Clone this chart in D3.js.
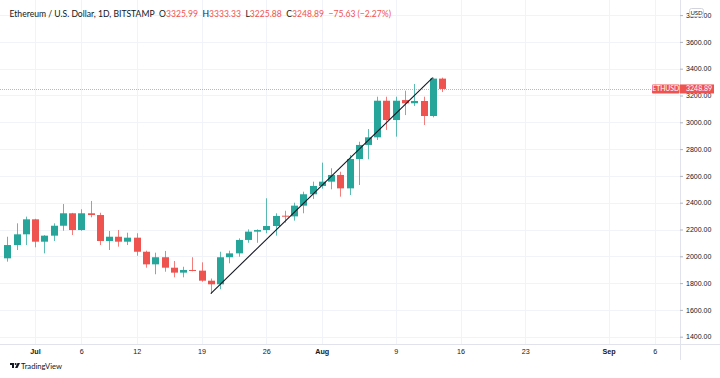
<!DOCTYPE html>
<html>
<head>
<meta charset="utf-8">
<script src="https://cdn.jsdelivr.net/npm/d3@7"></script>
<style>
  body { margin: 0; background: #fff; }
  svg { display: block; font-family: "Lato", "Noto Sans", sans-serif; }
  .tick text { fill: #131722; }
</style>
</head>
<body>
<svg id="chart" width="720" height="378"></svg>
<script>
// daily ETH/USD candles
const dates = ["2021-06-28","2021-06-29","2021-06-30","2021-07-01","2021-07-02","2021-07-03","2021-07-04",
  "2021-07-05","2021-07-06","2021-07-07","2021-07-08","2021-07-09","2021-07-10","2021-07-11","2021-07-12",
  "2021-07-13","2021-07-14","2021-07-15","2021-07-16","2021-07-17","2021-07-18","2021-07-19","2021-07-20",
  "2021-07-21","2021-07-22","2021-07-23","2021-07-24","2021-07-25","2021-07-26","2021-07-27","2021-07-28",
  "2021-07-29","2021-07-30","2021-07-31","2021-08-01","2021-08-02","2021-08-03","2021-08-04","2021-08-05",
  "2021-08-06","2021-08-07","2021-08-08","2021-08-09","2021-08-10","2021-08-11","2021-08-12","2021-08-13",
  "2021-08-14"];
const open  = [1985,2084,2164,2276,2109,2154,2228,2321,2196,2321,2308,2114,2146,2109,2139,2034,1940,1993,
  1915,1878,1898,1893,1818,1791,1993,2022,2122,2184,2196,2226,2303,2298,2378,2463,2525,2557,2607,2507,2726,
  2831,2888,3161,3017,3166,3142,3159,3047,3325.99];
const high  = [2146,2246,2296,2280,2158,2246,2390,2324,2351,2413,2325,2189,2196,2176,2172,2042,2027,2040,
  1965,1922,1993,1955,1834,2034,2042,2134,2201,2201,2433,2321,2340,2400,2482,2557,2699,2657,2631,2756,2855,
  2950,3191,3191,3191,3236,3286,3191,3333,3333.33];
const low   = [1960,2047,2084,2067,2022,2114,2191,2159,2190,2291,2084,2047,2072,2084,2004,1915,1866,1885,
  1843,1843,1888,1810,1719,1754,1948,1997,2101,2101,2172,2154,2251,2266,2321,2428,2505,2500,2445,2457,2532,
  2724,2868,2943,2893,3054,3122,2980,3037,3225.88];
const close = [2084,2164,2276,2109,2154,2228,2321,2196,2321,2308,2114,2146,2109,2139,2034,1940,1993,1915,
  1878,1898,1893,1818,1791,1993,2022,2122,2184,2196,2226,2301,2298,2378,2463,2525,2557,2607,2507,2726,2831,
  2888,3161,3017,3161,3142,3159,3047,3326,3248.89];

const trendDates = ["2021-07-20", "2021-08-13"];
const trendPrices = [1722, 3333];

const priceTicks = d3.range(1400, 3801, 200);
const timeTicks = ["2021-07-01","2021-07-06","2021-07-12","2021-07-19","2021-07-26","2021-08-01",
  "2021-08-09","2021-08-16","2021-08-23","2021-09-01","2021-09-06"];
const timeLabels = ["Jul","6","12","19","26","Aug","9","16","23","Sep","6"];

const title = "Ethereum / U.S. Dollar, 1D, BITSTAMP";
const lastPrice = 3248.89;

const up = "#26a69a", down = "#ef5350";
const width = 720, height = 378;
const plotRight = 680, plotBottom = 344;

const parse = d3.utcParse("%Y-%m-%d");
const data = dates.map((d, i) => ({date: parse(d), o: open[i], h: high[i], l: low[i], c: close[i]}));

const svg = d3.select("#chart");

const x = d3.scaleUtc()
    .domain([parse("2021-07-01"), parse("2021-09-06")])
    .range([35, 654.75]);
const y = d3.scaleLinear()
    .domain([1400, 3600])
    .range([336.7, 41.9]);

// grid
const grid = svg.append("g").attr("class", "grid");
grid.selectAll(".hg").data(priceTicks).join("line")
    .attr("x1", 0).attr("x2", plotRight)
    .attr("y1", d => Math.round(y(d)) + 0.5).attr("y2", d => Math.round(y(d)) + 0.5)
    .attr("stroke", "#f0f3fa");
grid.selectAll(".vg").data(timeTicks).join("line")
    .attr("x1", d => Math.round(x(parse(d))) + 0.5).attr("x2", d => Math.round(x(parse(d))) + 0.5)
    .attr("y1", 0).attr("y2", plotBottom)
    .attr("stroke", "#f0f3fa");

// axis borders
svg.append("line").attr("x1", 0).attr("x2", width).attr("y1", plotBottom + 0.5).attr("y2", plotBottom + 0.5)
    .attr("stroke", "#e0e3eb");
svg.append("line").attr("x1", plotRight + 0.5).attr("x2", plotRight + 0.5).attr("y1", 0).attr("y2", 360)
    .attr("stroke", "#e0e3eb");

// axes
const yAxis = d3.axisRight(y)
    .tickValues(priceTicks)
    .tickFormat(d3.format(".2f"))
    .tickSize(3)
    .tickPadding(3);
const gY = svg.append("g")
    .attr("transform", `translate(${plotRight},0)`)
    .call(yAxis);
gY.select(".domain").remove();
gY.selectAll(".tick line").attr("stroke", "#b2b5be");
gY.selectAll(".tick text").attr("font-size", 7);

const xAxis = d3.axisBottom(x)
    .tickValues(timeTicks.map(parse))
    .tickFormat((d, i) => timeLabels[i])
    .tickSize(0)
    .tickPadding(5);
const gX = svg.append("g")
    .attr("transform", `translate(0,${plotBottom})`)
    .call(xAxis);
gX.select(".domain").remove();
gX.selectAll(".tick text")
    .attr("font-size", 7.2)
    .attr("font-weight", (d, i) => isNaN(+timeLabels[i]) ? "bold" : "normal");

// last price line
svg.append("line")
    .attr("x1", 0).attr("x2", 652)
    .attr("y1", Math.round(y(lastPrice)) + 0.5).attr("y2", Math.round(y(lastPrice)) + 0.5)
    .attr("stroke", down).attr("stroke-width", 1)
    .attr("stroke-dasharray", "1,1").attr("opacity", 0.55);

// candles
const bw = 7;
const candles = svg.append("g").attr("class", "candles")
  .selectAll("g").data(data).join("g")
    .attr("transform", d => `translate(${Math.round(x(d.date))},0)`);

candles.append("line")
    .attr("x1", 0.5).attr("x2", 0.5)
    .attr("y1", d => y(d.h)).attr("y2", d => y(d.l))
    .attr("stroke", d => d.c >= d.o ? up : down)
    .attr("stroke-opacity", 0.75);

candles.append("rect")
    .attr("x", -Math.floor(bw / 2))
    .attr("width", bw)
    .attr("y", d => y(Math.max(d.o, d.c)))
    .attr("height", d => Math.max(1, Math.abs(y(d.o) - y(d.c))))
    .attr("fill", d => d.c >= d.o ? up : down);

// trend line
const line = d3.line()
    .x(d => x(d[0]))
    .y(d => y(d[1]));
svg.append("path")
    .datum(trendDates.map((d, i) => [parse(d), trendPrices[i]]))
    .attr("d", line)
    .attr("fill", "none")
    .attr("stroke", "#131722")
    .attr("stroke-width", 1.1);

// price labels on the axis (they sit over the 3200 label, as in the original)
const ly = y(lastPrice);
svg.append("rect").attr("x", 652).attr("y", ly - 4.5).attr("width", 27.5).attr("height", 9)
    .attr("rx", 1).attr("fill", down);
svg.append("text").attr("x", 665.7).attr("y", ly + 2.5).attr("text-anchor", "middle")
    .attr("font-size", 6.8).attr("fill", "#fff").text("ETHUSD");
svg.append("rect").attr("x", 680).attr("y", ly - 4.5).attr("width", 34).attr("height", 9)
    .attr("fill", down);
svg.append("text").attr("x", 686).attr("y", ly + 2.5)
    .attr("font-size", 7).attr("fill", "#fff").text(d3.format(".2f")(lastPrice));

// currency badge over the 3800 label
svg.append("rect").attr("x", 689.5).attr("y", 8.5).attr("width", 14).attr("height", 8).attr("rx", 2)
    .attr("fill", "#fff").attr("stroke", "#d1d4dc");
svg.append("text").attr("x", 696.5).attr("y", 14.8).attr("text-anchor", "middle")
    .attr("font-size", 6).attr("fill", "#131722").text("USD");

// header legend
const last = data[data.length - 1];
const header = svg.append("text").attr("x", 9.5).attr("y", 16.8).attr("font-size", 8.6).attr("fill", "#131722");
header.append("tspan").text(title);
[["O", last.o], ["H", last.h], ["L", last.l], ["C", last.c]].forEach(([k, v]) => {
  header.append("tspan").attr("dx", 4.5).text(k);
  header.append("tspan").attr("fill", down).text(d3.format(".2f")(v));
});
header.append("tspan").attr("dx", 4.5).attr("fill", down)
    .text("\u221275.63 (\u22122.27%)");

// logo
const logo = svg.append("g").attr("transform", "translate(10,363)");
logo.append("path").attr("d", "M0,0 H4 V5 H2 V2 H0 Z").attr("fill", "#131722");
logo.append("circle").attr("cx", 5.6).attr("cy", 1).attr("r", 1).attr("fill", "#131722");
logo.append("path").attr("d", "M7.5,0 H10 L7.5,5 H5 Z").attr("fill", "#131722");
svg.append("text").attr("x", 21).attr("y", 368.5).attr("font-size", 7.6).attr("fill", "#131722")
    .text("TradingView");
</script>
</body>
</html>
